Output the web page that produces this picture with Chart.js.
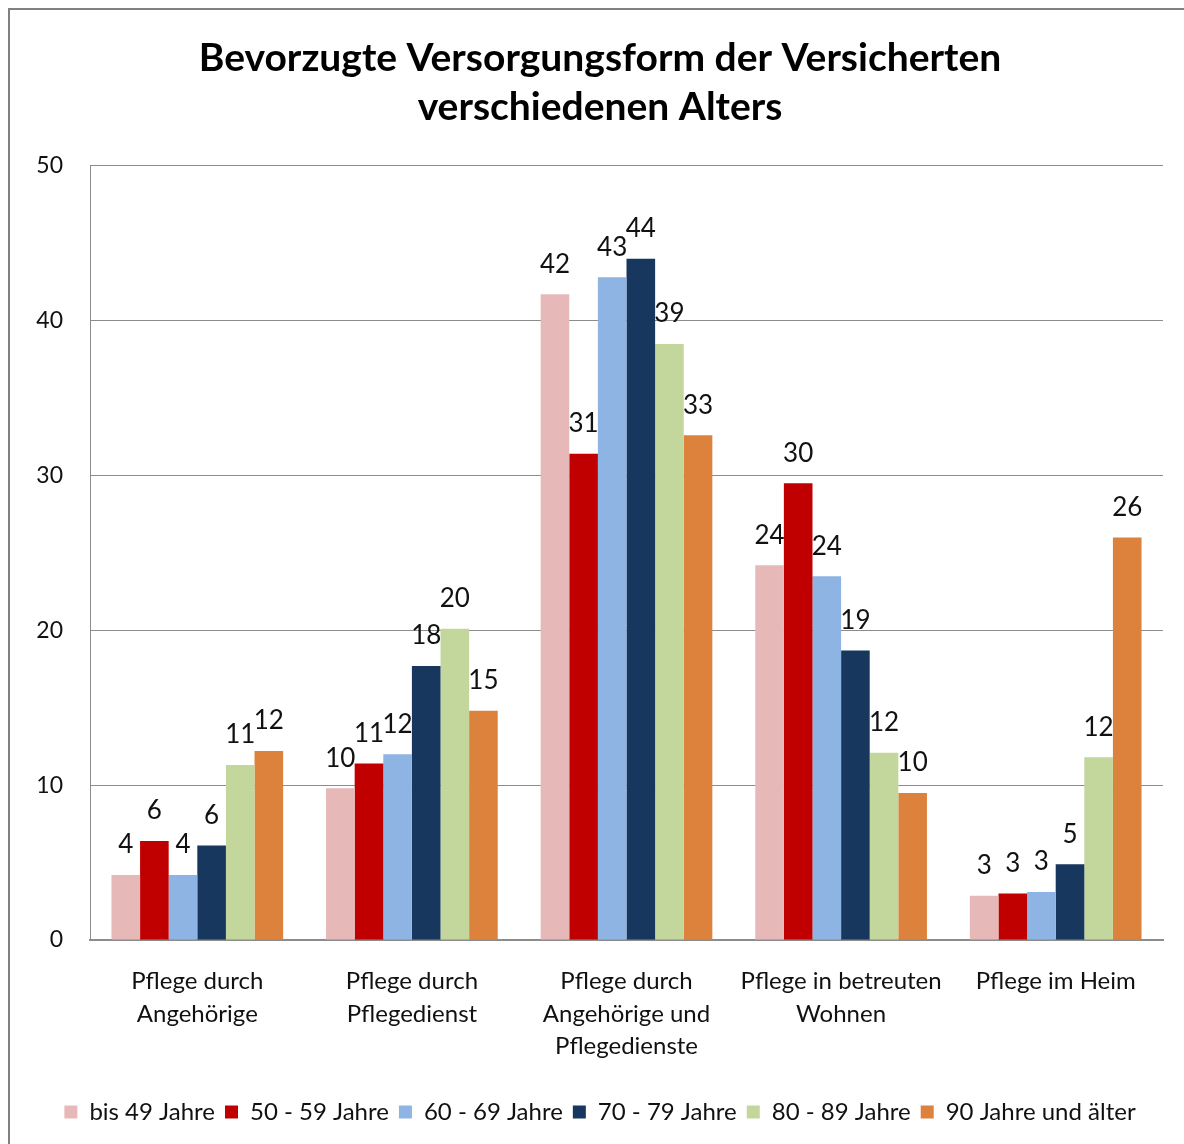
<!DOCTYPE html>
<html>
<head>
<meta charset="utf-8">
<script src="https://cdn.jsdelivr.net/npm/chart.js@4/dist/chart.umd.min.js"></script>
<style>
  body { margin: 0; background: #fff; }
</style>
</head>
<body>
<canvas id="careChart" width="1184" height="1144"></canvas>
<script>
const categories = [
  ["Pflege durch", "Angehörige"],
  ["Pflege durch", "Pflegedienst"],
  ["Pflege durch", "Angehörige und", "Pflegedienste"],
  ["Pflege in betreuten", "Wohnen"],
  ["Pflege im Heim"]
];
const bis49 = [4.2, 9.8, 41.7, 24.2, 2.85];
const age5059 = [6.4, 11.4, 31.4, 29.5, 3.0];
const age6069 = [4.2, 12.0, 42.8, 23.5, 3.1];
const age7079 = [6.1, 17.7, 44.0, 18.7, 4.9];
const age8089 = [11.3, 20.1, 38.5, 12.1, 11.8];
const age90 = [12.2, 14.8, 32.6, 9.5, 26.0];
const yTicks = [0, 10, 20, 30, 40, 50];

const FONT = "Lato, 'Open Sans', sans-serif";
const GRID = "#8c8c8c";

// white background + grey frame like the Excel chart border
const framePlugin = {
  id: "frame",
  beforeDraw(chart) {
    const ctx = chart.ctx;
    ctx.save();
    ctx.fillStyle = "#fff";
    ctx.fillRect(0, 0, chart.width, chart.height);
    ctx.strokeStyle = "#808080";
    ctx.lineWidth = 2;
    ctx.beginPath();
    ctx.moveTo(9, chart.height);
    ctx.lineTo(9, 9);
    ctx.lineTo(chart.width, 9);
    ctx.stroke();
    ctx.restore();
  }
};

// value labels above each bar
const valueLabels = {
  id: "valueLabels",
  afterDatasetsDraw(chart) {
    const ctx = chart.ctx;
    ctx.save();
    ctx.font = "26px " + FONT;
    ctx.fillStyle = "#111";
    ctx.textAlign = "center";
    ctx.textBaseline = "middle";
    chart.data.datasets.forEach((ds, i) => {
      chart.getDatasetMeta(i).data.forEach((bar, j) => {
        ctx.fillText(Math.round(ds.data[j]), bar.x, bar.y - 30);
      });
    });
    ctx.restore();
  }
};

new Chart("careChart", {
  type: "bar",
  data: {
    labels: categories,
    datasets: [
      { label: "bis 49 Jahre", data: bis49, backgroundColor: "#E6B9B8" },
      { label: "50 - 59 Jahre", data: age5059, backgroundColor: "#C00000" },
      { label: "60 - 69 Jahre", data: age6069, backgroundColor: "#8EB4E3" },
      { label: "70 - 79 Jahre", data: age7079, backgroundColor: "#17375E" },
      { label: "80 - 89 Jahre", data: age8089, backgroundColor: "#C3D69B" },
      { label: "90 Jahre und älter", data: age90, backgroundColor: "#DD823D" }
    ]
  },
  options: {
    responsive: false,
    animation: false,
    categoryPercentage: 0.8,
    barPercentage: 1.0,
    layout: { padding: { left: 16, right: 0, top: 8, bottom: 10 } },
    scales: {
      x: {
        grid: { display: false },
        border: { display: true, color: GRID, width: 2 },
        ticks: {
          color: "#111",
          padding: 17,
          maxRotation: 0,
          autoSkip: false,
          font: { family: FONT, size: 24, lineHeight: 1.36 }
        },
        afterFit(scale) { scale.height = 150; }
      },
      y: {
        min: 0,
        max: 50,
        afterBuildTicks(scale) { scale.ticks = yTicks.map(v => ({ value: v })); },
        grid: { color: GRID, lineWidth: 1, drawTicks: false },
        border: { display: true, color: GRID, width: 1 },
        ticks: {
          color: "#111",
          padding: 27,
          font: { family: FONT, size: 23 }
        },
        afterFit(scale) { scale.width = 74; }
      },
      // empty right-hand spacer so the plot ends before the frame edge
      spacer: {
        position: "right",
        display: true,
        grid: { display: false },
        border: { display: false },
        ticks: { display: false },
        afterFit(scale) { scale.width = 21; }
      }
    },
    plugins: {
      legend: {
        position: "bottom",
        labels: {
          color: "#111",
          boxWidth: 13,
          boxHeight: 13,
          padding: 10,
          font: { family: FONT, size: 24 }
        }
      },
      title: {
        display: true,
        text: ["Bevorzugte Versorgungsform der Versicherten", "verschiedenen Alters"],
        color: "#000",
        font: { family: FONT, size: 39, weight: "bold", lineHeight: 1.28 },
        padding: { top: 25, bottom: 33 }
      },
      tooltip: { enabled: false }
    }
  },
  plugins: [framePlugin, valueLabels]
});
</script>
</body>
</html>
